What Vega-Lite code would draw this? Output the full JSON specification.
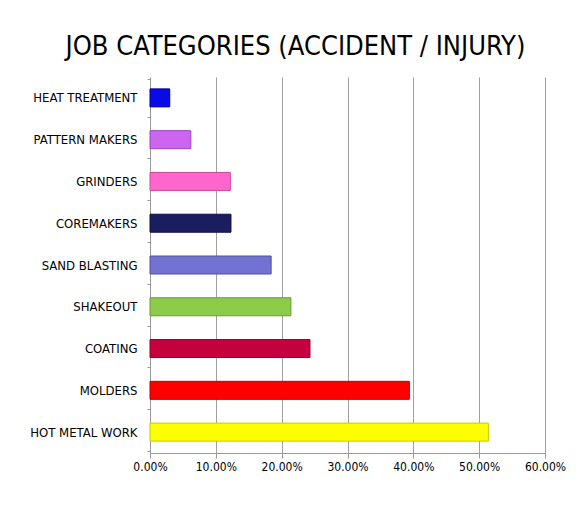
{
  "$schema": "https://vega.github.io/schema/vega-lite/v6.json",
  "autosize": "none",
  "width": 395,
  "height": 376,
  "padding": {"left": 150, "top": 77, "right": 33, "bottom": 53},
  "background": "white",
  "title": {
    "text": "JOB CATEGORIES (ACCIDENT / INJURY)",
    "font": "DejaVu Sans Condensed",
    "fontSize": 27,
    "fontWeight": "normal",
    "color": "#000000",
    "anchor": "middle",
    "dx": -52,
    "offset": 10
  },
  "data": {
    "values": [
      {"job": "HEAT TREATMENT", "share": 0.030},
      {"job": "PATTERN MAKERS", "share": 0.062},
      {"job": "GRINDERS", "share": 0.122},
      {"job": "COREMAKERS", "share": 0.123},
      {"job": "SAND BLASTING", "share": 0.184},
      {"job": "SHAKEOUT", "share": 0.214},
      {"job": "COATING", "share": 0.243},
      {"job": "MOLDERS", "share": 0.394},
      {"job": "HOT METAL WORK", "share": 0.514}
    ]
  },
  "mark": {"type": "bar", "height": 18, "strokeWidth": 1},
  "encoding": {
    "y": {
      "field": "job",
      "type": "nominal",
      "sort": null,
      "title": null,
      "axis": {
        "labelFont": "DejaVu Sans Condensed",
        "labelFontSize": 13,
        "labelColor": "#000000",
        "labelPadding": 10,
        "ticks": true,
        "tickBand": "extent",
        "tickSize": 3,
        "tickColor": "#999999",
        "domainColor": "#999999",
        "grid": false
      }
    },
    "x": {
      "field": "share",
      "type": "quantitative",
      "title": null,
      "scale": {"domain": [0, 0.6]},
      "axis": {
        "format": ".2%",
        "values": [0, 0.1, 0.2, 0.3, 0.4, 0.5, 0.6],
        "labelFont": "DejaVu Sans Condensed",
        "labelFontSize": 12,
        "labelColor": "#000000",
        "labelPadding": 3,
        "labelFlush": false,
        "tickColor": "#999999",
        "tickSize": 5,
        "domainColor": "#999999",
        "grid": true,
        "gridColor": "#a0a0a0",
        "gridWidth": 1
      }
    },
    "color": {
      "field": "job",
      "type": "nominal",
      "legend": null,
      "scale": {
        "domain": ["HEAT TREATMENT", "PATTERN MAKERS", "GRINDERS", "COREMAKERS", "SAND BLASTING", "SHAKEOUT", "COATING", "MOLDERS", "HOT METAL WORK"],
        "range": ["#0a0ae6", "#cc66f0", "#ff66cc", "#1c1c60", "#7272d2", "#8ccc4a", "#c4003e", "#fe0000", "#ffff00"]
      }
    },
    "stroke": {
      "field": "job",
      "type": "nominal",
      "legend": null,
      "scale": {
        "domain": ["HEAT TREATMENT", "PATTERN MAKERS", "GRINDERS", "COREMAKERS", "SAND BLASTING", "SHAKEOUT", "COATING", "MOLDERS", "HOT METAL WORK"],
        "range": ["#0000a0", "#9a44c0", "#d04898", "#101040", "#5050a0", "#6a9a30", "#900028", "#c00000", "#c8c800"]
      }
    }
  },
  "config": {
    "view": {"stroke": null}
  }
}
